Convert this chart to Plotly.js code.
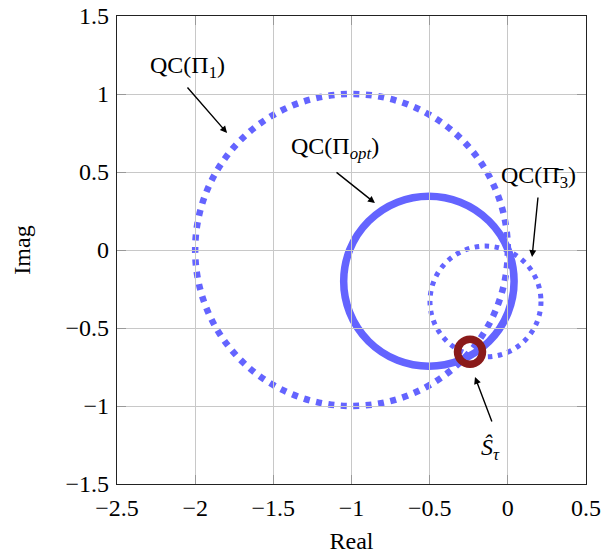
<!DOCTYPE html>
<html>
<head>
<meta charset="utf-8">
<script src="https://cdn.plot.ly/plotly-3.0.1.min.js"></script>
<style>html,body{margin:0;padding:0;background:#fff;}</style>
</head>
<body>
<div id="chart" style="width:610px;height:554px;"></div>
<script>
// Quadratic-constraint circles: centre (real, imag) and radius
const circleNames = ['QC(Π1)', 'QC(Πopt)', 'QC(Π̄3)'];
const centerRe = [-1.0, -0.505, -0.143];
const centerIm = [0.0, -0.2, -0.33];
const radius = [1.0, 0.545, 0.355];

// Estimated point S-hat_tau
const sHatRe = [-0.242];
const sHatIm = [-0.652];

const xTicks = [-2.5, -2, -1.5, -1, -0.5, 0, 0.5];
const yTicks = [-1.5, -1, -0.5, 0, 0.5, 1, 1.5];

const FONT = "'Liberation Serif', 'Times New Roman', serif";
const BLUE = '#6464ff';
const lineStyles = [
  {width: 6.5, dash: '6px,6.5px'},
  {width: 7.5, dash: 'solid'},
  {width: 5, dash: '4.5px,5.5px'}
];

const shapes = circleNames.map((n, i) => ({
  type: 'circle', xref: 'x', yref: 'y', layer: 'below',
  x0: centerRe[i] - radius[i], x1: centerRe[i] + radius[i],
  y0: centerIm[i] - radius[i], y1: centerIm[i] + radius[i],
  line: {color: BLUE, width: lineStyles[i].width, dash: lineStyles[i].dash},
  fillcolor: 'rgba(0,0,0,0)'
}));

const traces = [{
  type: 'scatter', mode: 'markers', x: sHatRe, y: sHatIm,
  marker: {symbol: 'circle-open', size: 25, color: '#8a1a1a', line: {width: 7.5, color: '#8a1a1a'}},
  showlegend: false, hoverinfo: 'skip', cliponaxis: false
}];

function label(text, x, y) {
  return {text: text, x: x, y: y, xref: 'x', yref: 'y', showarrow: false,
    xanchor: 'center', yanchor: 'middle', font: {family: FONT, size: 24, color: '#000'}};
}
function arrow(tx, ty, hx, hy) {
  return {text: '', x: hx, y: hy, ax: tx, ay: ty, xref: 'x', yref: 'y', axref: 'x', ayref: 'y',
    showarrow: true, arrowhead: 2, arrowsize: 1, arrowwidth: 1.4, arrowcolor: '#000',
    borderpad: 0, standoff: 0, startstandoff: 0};
}

const annotations = [
  label('QC(Π<sub>1</sub>)', -2.052, 1.173),
  arrow(-2.052, 1.045, -1.796, 0.75),
  label('QC(Π<sub><i>opt</i></sub>)', -1.106, 0.654),
  arrow(-1.099, 0.5, -0.85, 0.301),
  label('QC(Π̄<sub>3</sub>)', 0.199, 0.468),
  arrow(0.193, 0.34, 0.155, -0.045),
  label('<i>Ŝ</i><sub><i>τ</i></sub>', -0.114, -1.275),
  arrow(-0.101, -1.103, -0.21, -0.814)
];

const axisCommon = {
  showgrid: true, gridcolor: '#c8c8c8', gridwidth: 1, zeroline: false,
  showline: true, linecolor: '#222', linewidth: 1.2, mirror: 'ticks',
  ticks: 'inside', ticklen: 9, tickwidth: 1, tickcolor: '#999',
  tickfont: {family: FONT, size: 24, color: '#000'}, tickmode: 'array'
};

const layout = {
  width: 610, height: 554,
  margin: {l: 117, r: 24, t: 16, b: 70},
  paper_bgcolor: '#fff', plot_bgcolor: '#fff',
  showlegend: false,
  xaxis: Object.assign({}, axisCommon, {
    range: [-2.5, 0.5], tickvals: xTicks, ticklabelstandoff: 2,
    title: {text: 'Real', font: {family: FONT, size: 24, color: '#000'}, standoff: 14}
  }),
  yaxis: Object.assign({}, axisCommon, {
    range: [-1.5, 1.5], tickvals: yTicks, ticklabelstandoff: 2,
    title: {text: 'Imag', font: {family: FONT, size: 24, color: '#000'}, standoff: 28}
  }),
  shapes: shapes,
  annotations: annotations
};

Plotly.newPlot('chart', traces, layout, {displayModeBar: false, staticPlot: true});
</script>
</body>
</html>
